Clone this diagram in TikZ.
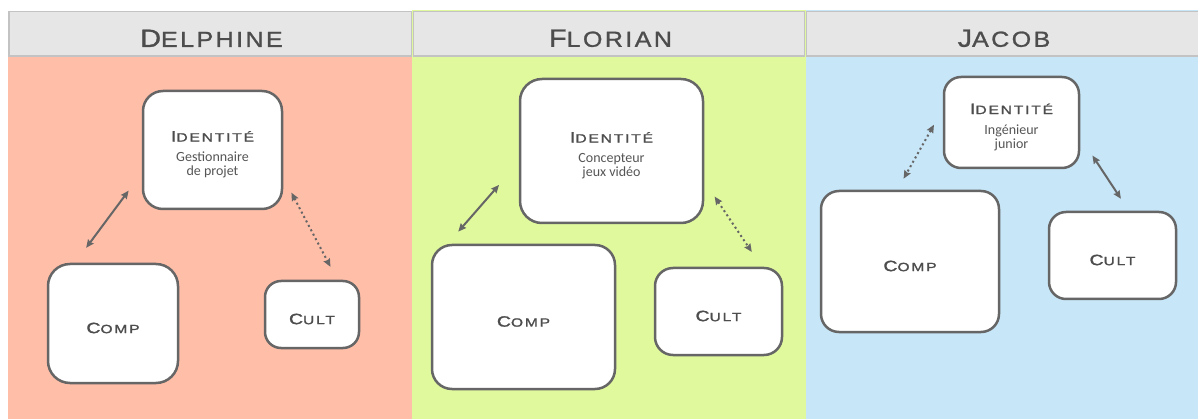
\documentclass[tikz,border=0pt]{standalone}
\usepackage{fontspec}
\setmainfont{Carlito}
\newfontfamily\hdrfont[FakeStretch=1.15,LetterSpace=11,FakeBold=1.2]{Liberation Sans}
\newfontfamily\boxfont[FakeStretch=1.3,LetterSpace=15,FakeBold=1.4]{Liberation Sans}
\usetikzlibrary{arrows.meta}
\definecolor{pinkbg}{HTML}{FFBEA8}
\definecolor{greenbg}{HTML}{E1F99D}
\definecolor{bluebg}{HTML}{C7E6F7}
\definecolor{hdrfill}{HTML}{E6E6E6}
\definecolor{hdrline}{HTML}{C3C3C3}
\definecolor{boxline}{HTML}{666666}
\definecolor{txt}{HTML}{4D4D4D}
\definecolor{subtxt}{HTML}{555555}
\newcommand\hsc[2]{{\fontsize{25}{25}\selectfont #1}{\fontsize{21.8}{25}\selectfont #2}}
\newcommand\bsc[2]{{\fontsize{15}{15}\selectfont #1}{\fontsize{12}{15}\selectfont #2}}
\tikzset{
  hdr/.style={fill=hdrfill, draw=hdrline, line width=1.5pt},
  hdrtext/.style={text=txt, font=\hdrfont, inner sep=0pt},
  card/.style={fill=white, draw=boxline, line width=2.5pt, inner sep=0pt},
  cardtext/.style={text=txt, inner sep=0pt, align=center, font=\fontsize{14}{14}\selectfont},
  link/.style={draw=boxline, line width=2pt, {Stealth[length=8pt,width=7pt,inset=1pt]}-{Stealth[length=8pt,width=7pt,inset=1pt]}},
  dlink/.style={link, dash pattern=on 2pt off 3pt},
}
\newcommand\sub[1]{{\color{subtxt}#1}}
\begin{document}
\begin{tikzpicture}[x=1pt,y=-1pt]
\useasboundingbox (0,0) rectangle (1198,419);
% columns
\fill[pinkbg] (8,56) rectangle (412,419);
\fill[greenbg] (412,10) rectangle (806,419);
\fill[bluebg] (806,10) rectangle (1198,419);
\draw[hdr] (8.75,11.5) rectangle (411.5,56);
\draw[hdr] (413.5,11.5) rectangle (804.5,56);
\draw[hdr] (806.5,11.5) rectangle (1199,56);
\node[hdrtext] (h1) at (211.5,38.3) {\hsc{D}{ELPHINE}};
\node[hdrtext] (h2) at (610.5,38.3) {\hsc{F}{LORIAN}};
\node[hdrtext] (h3) at (1004,38.3) {\hsc{J}{ACOB}};
% Delphine
\node[card, rounded corners=20pt, minimum width=139pt, minimum height=118pt] (id1) at (212.5,150) {};
\node[card, rounded corners=22pt, minimum width=130pt, minimum height=119pt] (comp1) at (113,323.5) {};
\node[card, rounded corners=16pt, minimum width=94pt, minimum height=67pt] (cult1) at (312,314.5) {};
\node[cardtext] (id1t) at ([yshift=-4.5pt]id1.center) {{\boxfont\bsc{I}{DENTITÉ}}\\[6pt]\sub{Gestionnaire}\\\sub{de projet}};
\node[cardtext] (comp1t) at ([yshift=-4.5pt]comp1.center) {\boxfont\bsc{C}{OMP}};
\node[cardtext] (cult1t) at ([yshift=-4.5pt]cult1.center) {\boxfont\bsc{C}{ULT}};
\draw[link, shorten <=22pt, shorten >=18.6pt] (id1.198) -- (comp1.122);
\draw[dlink, shorten <=17.5pt, shorten >=14.6pt] (id1.339) -- (cult1.54.7);
% Florian
\node[card, rounded corners=22pt, minimum width=183pt, minimum height=144pt] (id2) at (611.5,151) {};
\node[card, rounded corners=20pt, minimum width=183pt, minimum height=144pt] (comp2) at (523.5,317) {};
\node[card, rounded corners=18pt, minimum width=127pt, minimum height=87pt] (cult2) at (718.5,311.5) {};
\node[cardtext] (id2t) at ([yshift=-4.5pt]id2.center) {{\boxfont\bsc{I}{DENTITÉ}}\\[6pt]\sub{Concepteur}\\\sub{jeux vidéo}};
\node[cardtext] (comp2t) at ([yshift=-4.5pt]comp2.center) {\boxfont\bsc{C}{OMP}};
\node[cardtext] (cult2t) at ([yshift=-4.5pt]cult2.center) {\boxfont\bsc{C}{ULT}};
\draw[link, shorten <=30pt, shorten >=16.1pt] (id2.187.8) -- (comp2.136.6);
\draw[dlink, shorten <=18.6pt, shorten >=17.8pt] (id2.342.8) -- (cult2.46.6);
% Jacob
\node[card, rounded corners=17pt, minimum width=135pt, minimum height=91pt] (id3) at (1011.5,122.5) {};
\node[card, rounded corners=18pt, minimum width=178pt, minimum height=141pt] (comp3) at (910,261.5) {};
\node[card, rounded corners=17pt, minimum width=127pt, minimum height=87pt] (cult3) at (1112.5,255.5) {};
\node[cardtext] (id3t) at ([yshift=-4.5pt]id3.center) {{\boxfont\bsc{I}{DENTITÉ}}\\[6pt]\sub{Ingénieur}\\\sub{junior}};
\node[cardtext] (comp3t) at ([yshift=-4.5pt]comp3.center) {\boxfont\bsc{C}{OMP}};
\node[cardtext] (cult3t) at ([yshift=-4.5pt]cult3.center) {\boxfont\bsc{C}{ULT}};
\draw[dlink, shorten <=17.9pt, shorten >=12.7pt] (id3.169.1) -- (comp3.100.8);
\draw[link, shorten <=22.1pt, shorten >=14.3pt] (id3.348.4) -- (cult3.70.7);
\end{tikzpicture}
\end{document}
